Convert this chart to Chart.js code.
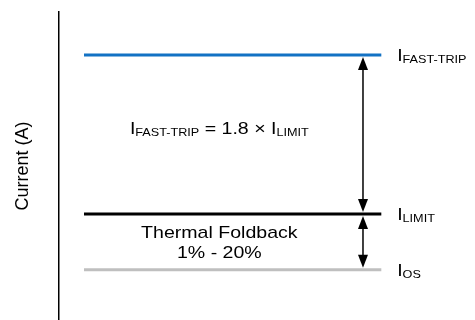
<!DOCTYPE html>
<html>
<head>
<meta charset="utf-8">
<script src="https://cdn.jsdelivr.net/npm/chart.js@4.4.1/dist/chart.umd.min.js"></script>
<style>
  html, body { margin: 0; padding: 0; background: #fff; }
  #wrap { width: 475px; height: 320px; }
</style>
</head>
<body>
<div id="wrap"><canvas id="chart"></canvas></div>
<script>
// current levels (relative to I_LIMIT)
const levelNames = ['FAST-TRIP', 'LIMIT', 'OS'];
const levelValues = [1.8, 1.0, 0.72];
const levelColors = ['#1372c4', '#000000', '#bfbfbf'];

// horizontal extent of the level lines, arrow position, label position (x units 0..100)
const lineSpan = [6.1, 77.5];
const arrowX = 73.1;
const labelX = 81.3;

// annotations in the middle
const centerX = 38.6;
const formulaY = 1.433;
const foldbackLines = ['Thermal Foldback', '1% - 20%'];
const foldbackY = [0.905, 0.8];

const FONT = 'Arial, "Liberation Sans", sans-serif';
const STRETCH = 1.15; // text in the original is a bit wide

// draws text made of normal + subscript pieces
function drawRich(ctx, x, y, parts, align) {
    const big = 17, small = 11;
    let total = 0;
    parts.forEach(p => {
        ctx.font = (p.sub ? small : big) + 'px ' + FONT;
        p.w = ctx.measureText(p.t).width * STRETCH;
        total += p.w;
    });
    let cx = align === 'center' ? x - total / 2 : x;
    ctx.textAlign = 'left';
    ctx.textBaseline = 'alphabetic';
    parts.forEach(p => {
        ctx.font = (p.sub ? small : big) + 'px ' + FONT;
        ctx.save();
        ctx.translate(cx, y + (p.sub ? 2 : 0));
        ctx.scale(STRETCH, 1);
        ctx.fillText(p.t, 0, 0);
        ctx.restore();
        cx += p.w;
    });
}

function arrow(ctx, x, y1, y2) {
    // double headed arrow between y1 (top) and y2 (bottom)
    const hw = 5, hl = 13;
    ctx.strokeStyle = '#000';
    ctx.fillStyle = '#000';
    ctx.lineWidth = 1.5;
    ctx.beginPath();
    ctx.moveTo(x, y1 + hl - 1);
    ctx.lineTo(x, y2 - hl + 1);
    ctx.stroke();
    ctx.beginPath();
    ctx.moveTo(x, y1);
    ctx.lineTo(x - hw, y1 + hl);
    ctx.lineTo(x + hw, y1 + hl);
    ctx.closePath();
    ctx.fill();
    ctx.beginPath();
    ctx.moveTo(x, y2);
    ctx.lineTo(x - hw, y2 - hl);
    ctx.lineTo(x + hw, y2 - hl);
    ctx.closePath();
    ctx.fill();
}

const annotate = {
    id: 'annotate',
    afterDatasetsDraw(chart) {
        const ctx = chart.ctx;
        const xs = chart.scales.x, ys = chart.scales.y;
        const ax = xs.getPixelForValue(arrowX);
        const py = levelValues.map(v => ys.getPixelForValue(v));
        ctx.save();
        arrow(ctx, ax, py[0] + 2, py[1] - 2);
        arrow(ctx, ax, py[1] + 2, py[2] - 2);

        ctx.fillStyle = '#000';
        const lx = xs.getPixelForValue(labelX);
        levelNames.forEach((n, i) => {
            drawRich(ctx, lx, py[i] + 6, [{ t: 'I' }, { t: n, sub: true }], 'left');
        });

        const cx = xs.getPixelForValue(centerX);
        drawRich(ctx, cx, ys.getPixelForValue(formulaY) + 6,
            [{ t: 'I' }, { t: 'FAST-TRIP', sub: true }, { t: ' = 1.8 × I' }, { t: 'LIMIT', sub: true }], 'center');

        ctx.font = '17px ' + FONT;
        ctx.textAlign = 'center';
        ctx.textBaseline = 'middle';
        foldbackLines.forEach((t, i) => {
            ctx.save();
            ctx.translate(cx, ys.getPixelForValue(foldbackY[i]));
            ctx.scale(STRETCH, 1);
            ctx.fillText(t, 0, 0);
            ctx.restore();
        });
        ctx.restore();
    }
};

const datasets = levelValues.map((v, i) => ({
    label: 'I' + levelNames[i],
    data: lineSpan.map(x => ({ x: x, y: v })),
    borderColor: levelColors[i],
    borderWidth: 3,
    pointRadius: 0,
    fill: false
}));

new Chart(document.getElementById('chart'), {
    type: 'line',
    data: { datasets: datasets },
    options: {
        responsive: true,
        maintainAspectRatio: false,
        animation: false,
        layout: { padding: { left: 8, top: 12, right: 0, bottom: 0 } },
        plugins: { legend: { display: false }, tooltip: { enabled: false } },
        scales: {
            x: { type: 'linear', min: 0, max: 100, display: false },
            y: {
                min: 0.467,
                max: 2.016,
                ticks: { display: false },
                grid: { display: false, drawTicks: false },
                border: { display: true, color: '#000', width: 1.5 },
                title: {
                    display: true,
                    text: 'Current (A)',
                    color: '#000',
                    font: { family: FONT, size: 18 },
                    padding: { top: 4, bottom: 25 }
                }
            }
        }
    },
    plugins: [annotate]
});
</script>
</body>
</html>
